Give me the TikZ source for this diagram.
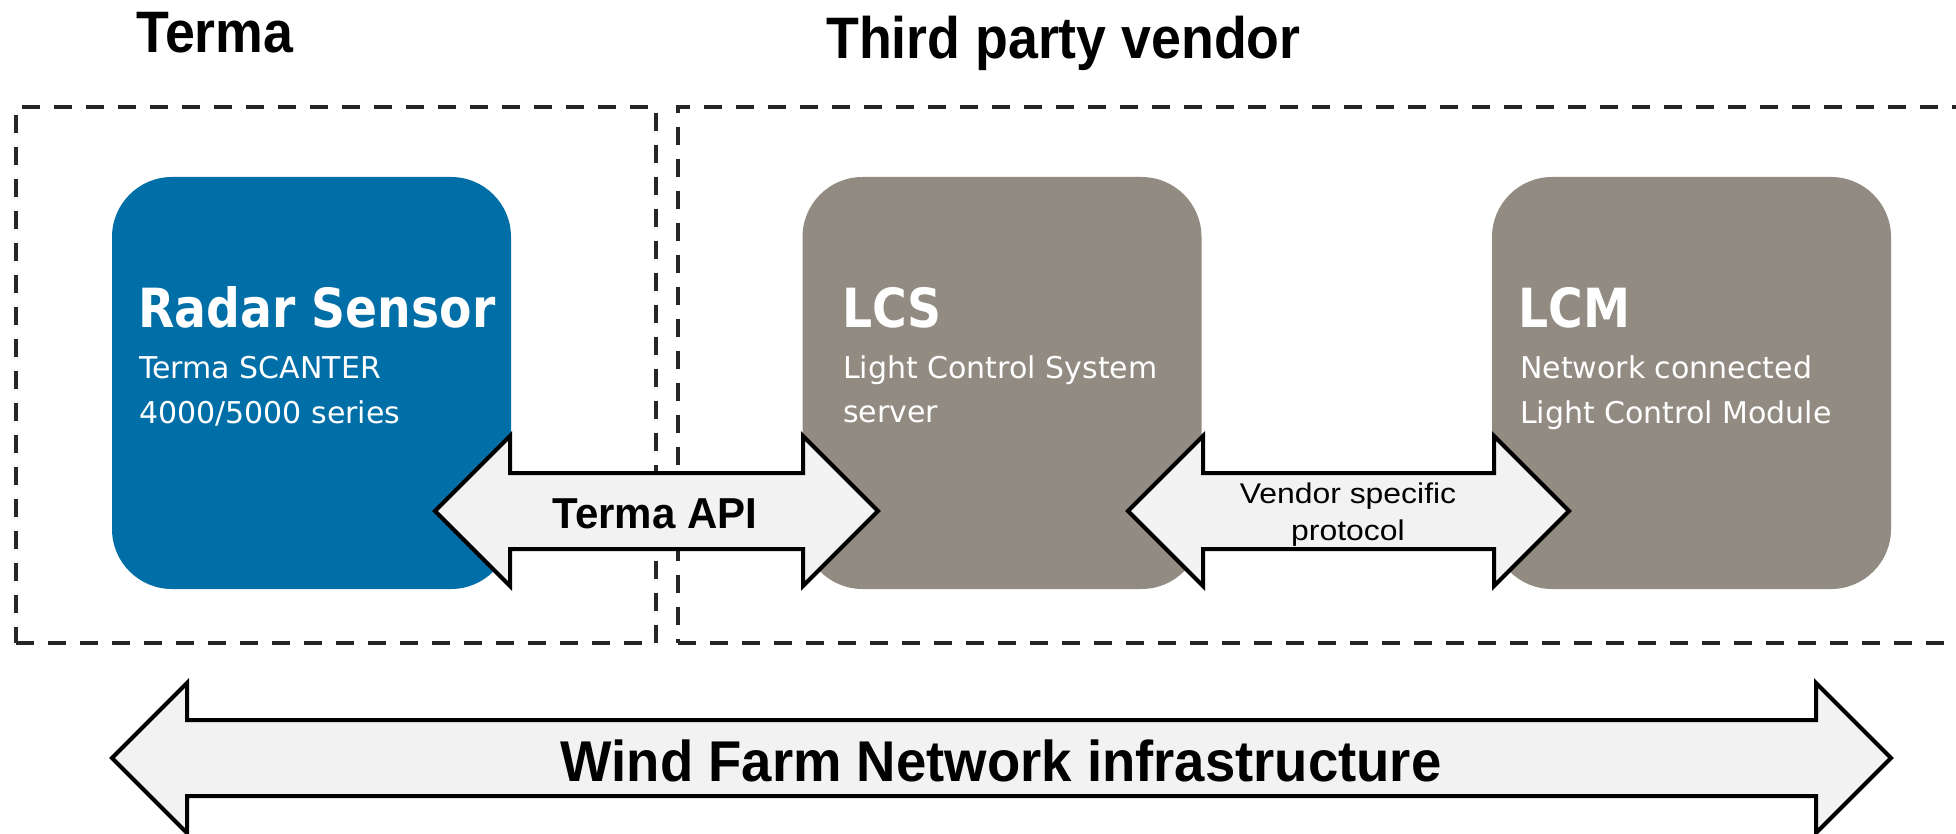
\documentclass[tikz,border=0pt]{standalone}
\usepackage{fontspec}
\setmainfont{Liberation Sans}
\newfontfamily\headfont[FakeStretch=0.918]{Liberation Sans Bold}
\newfontfamily\apifont[FakeStretch=0.97]{Liberation Sans Bold}
\newfontfamily\windfont[FakeStretch=0.948]{Liberation Sans Bold}
\newfontfamily\vendfont[FakeStretch=1.12]{Liberation Sans}
\newfontfamily\boxtitlefont[FakeStretch=0.875]{DejaVu Sans Bold}
\newfontfamily\boxsubfont{DejaVu Sans}
\usetikzlibrary{calc}
\definecolor{radarblue}{RGB}{0,110,167}
\definecolor{vendgray}{RGB}{146,139,129}
\definecolor{arrowfill}{RGB}{242,242,242}
\definecolor{dashcol}{RGB}{38,38,38}
\newcommand\blockarrow[2]{%
  \draw[bar] (#1) -- ++(75,-75) -- ++(0,37) -- ($(#2)+(-75,-38)$) -- ++(0,-37) -- (#2)
    -- ++(-75,75) -- ++(0,-37) -- ($(#1)+(75,38)$) -- ++(0,37) -- cycle;}
\begin{document}
\begin{tikzpicture}[x=1pt,y=-1pt,
  dashframe/.style={draw=dashcol, line width=4.5pt, dash pattern=on 18pt off 14pt, rectangle, inner sep=0pt, outer sep=0pt},
  unitbox/.style={rectangle, rounded corners=60pt, minimum width=399pt, minimum height=412pt, inner sep=0pt, outer sep=0pt},
  bar/.style={draw=black, fill=arrowfill, line width=4pt, line join=miter},
  boxtitle/.style={anchor=base west, inner sep=0pt, text=white, font=\boxtitlefont\fontsize{54}{54}\selectfont},
  boxsub/.style={anchor=base west, inner sep=0pt, text=white, font=\boxsubfont\fontsize{30}{36}\selectfont},
  headtitle/.style={anchor=base west, inner sep=0pt, text=black, font=\headfont\fontsize{58.5}{60}\selectfont},
  arrowlabel/.style={anchor=base, inner sep=0pt, text=black}]
\useasboundingbox (0,0) rectangle (1956,834);
\fill[white] (0,0) rectangle (1956,834);

% group frames
\node[dashframe, minimum width=640pt, minimum height=536pt] (termaframe) at (336,375) {};
\node[dashframe, minimum width=1322pt, minimum height=536pt] (vendorframe) at (1339,375) {};

% titles
\node[headtitle] (termatitle) at (136,53) {Terma};
\node[headtitle] (vendortitle) at (826,59) {Third party vendor};

% units
\node[unitbox, fill=radarblue] (radar) at (311.5,383) {};
\node[unitbox, fill=vendgray] (lcs) at (1002,383) {};
\node[unitbox, fill=vendgray] (lcm) at (1691.5,383) {};

% unit texts
\node[boxtitle] (radart) at (138,327) {Radar Sensor};
\node[boxsub] (radars1) at (139,378) {Terma SCANTER};
\node[boxsub] (radars2) at (139,423) {4000/5000 series};

\node[boxtitle] (lcst) at (842,327) {LCS};
\node[boxsub] (lcss1) at (843,378) {Light Control System};
\node[boxsub] (lcss2) at (843,422) {server};

\node[boxtitle] (lcmt) at (1518,327) {LCM};
\node[boxsub] (lcms1) at (1520,378) {Network connected};
\node[boxsub] (lcms2) at (1520,423) {Light Control Module};

% block arrows
\coordinate (apiL) at (435,511);
\coordinate (apiR) at (878,511);
\coordinate (vpL) at (1128,511);
\coordinate (vpR) at (1569,511);
\coordinate (wfL) at (112,758);
\coordinate (wfR) at (1891,758);
\blockarrow{apiL}{apiR}
\blockarrow{vpL}{vpR}
\blockarrow{wfL}{wfR}

\node[arrowlabel, font=\apifont\fontsize{43.3}{44}\selectfont] (apitext) at (655,528) {Terma API};
\node[arrowlabel, font=\vendfont\fontsize{28.5}{30}\selectfont] (vend1) at (1348,503) {Vendor specific};
\node[arrowlabel, font=\vendfont\fontsize{28.5}{30}\selectfont] (vend2) at (1348,540) {protocol};
\node[arrowlabel, font=\windfont\fontsize{57.5}{58}\selectfont] (windtext) at (1001,781) {Wind Farm Network infrastructure};
\end{tikzpicture}
\end{document}
